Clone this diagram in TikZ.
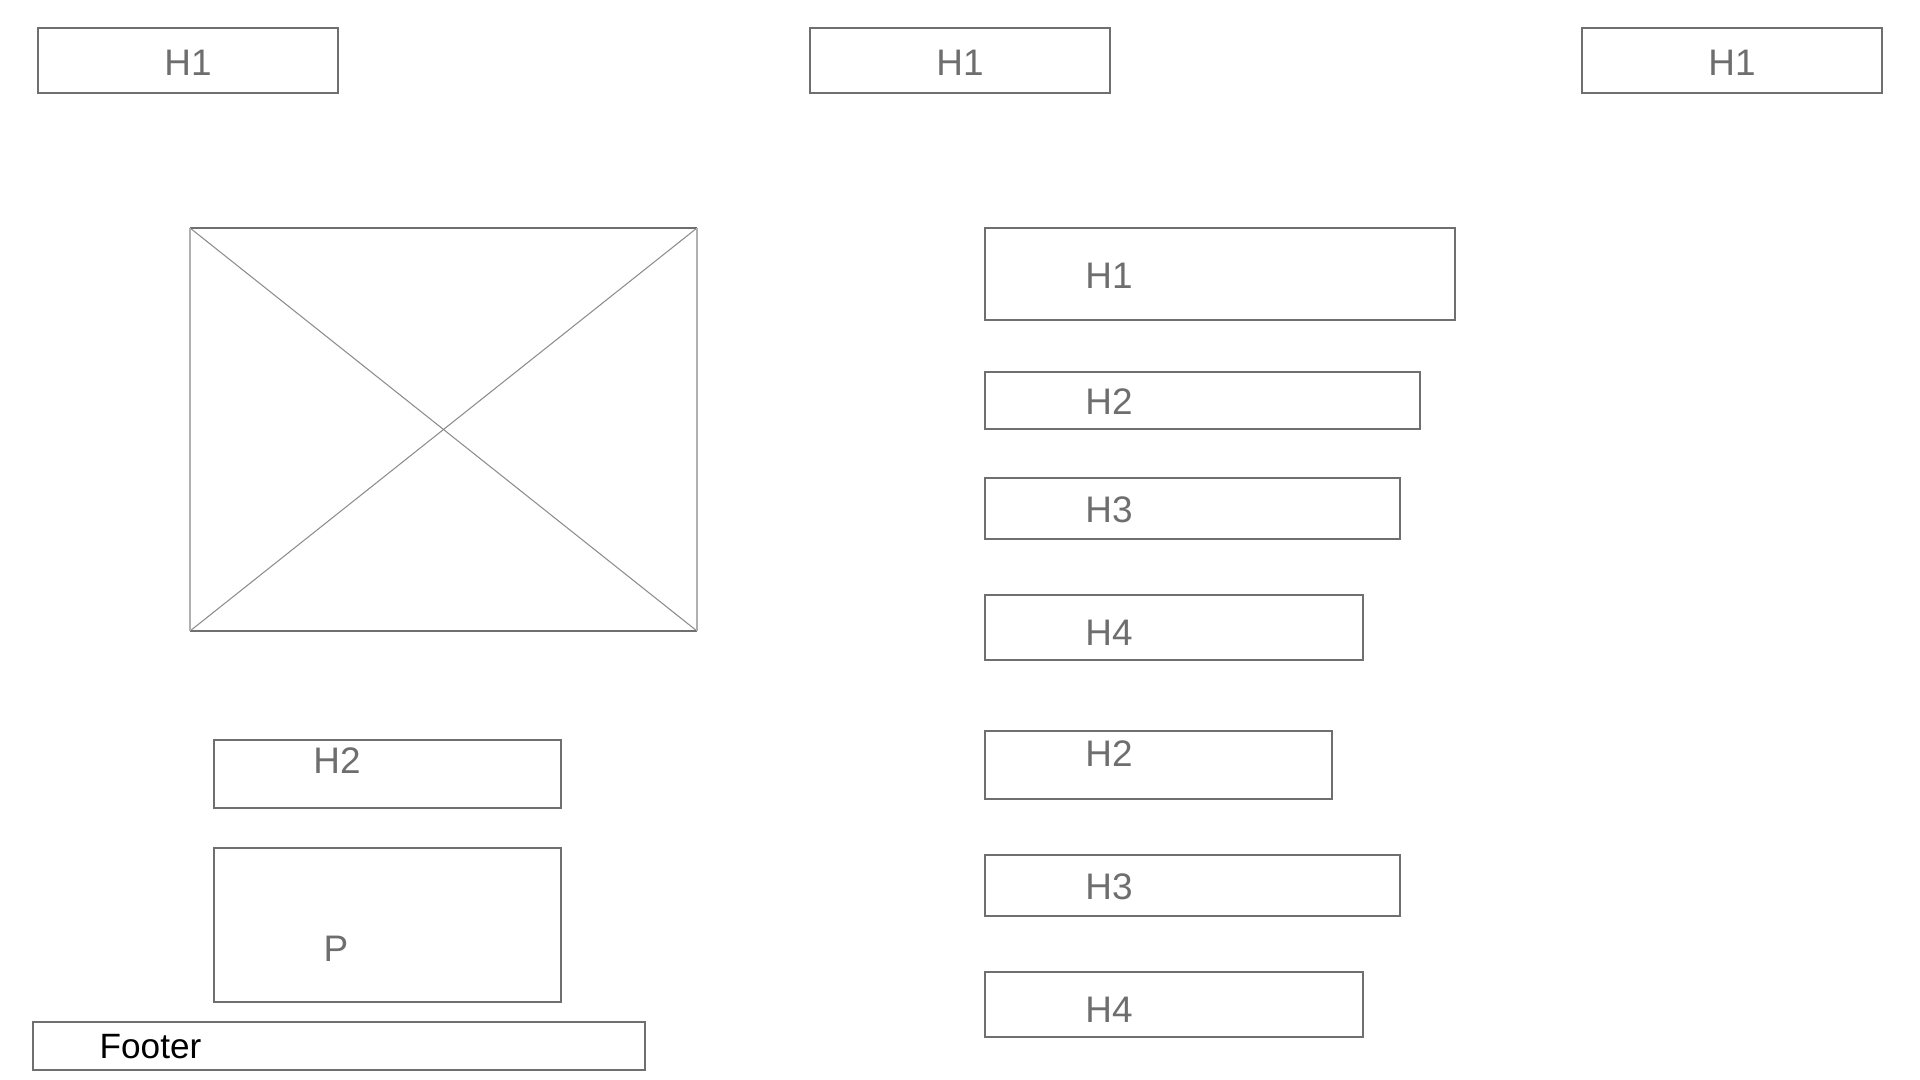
\documentclass[tikz,border=0pt]{standalone}
\usepackage{fontspec}
\setmainfont{Liberation Sans}
\definecolor{wireline}{HTML}{6F6F6F}
\definecolor{wiretext}{HTML}{6E6E6E}
\definecolor{wirecross}{HTML}{8C8C8C}
\definecolor{wireside}{HTML}{B0B0B0}

\begin{document}
\begin{tikzpicture}[x = 0.01cm, y = -0.01cm,
    wire/.style = {draw = wireline, line width = 0.45pt},
    label/.style = {text = wiretext, anchor = base, inner sep = 0pt, font = \fontsize{10.5}{12}\selectfont}]%
  \useasboundingbox (0, 0) rectangle (1920, 1080);

  % header row
  \draw[wire] (38, 28) rectangle (338, 93);
  \draw[wire] (810, 28) rectangle (1110, 93);
  \draw[wire] (1582, 28) rectangle (1882, 93);
  \node[label] (headleft) at (188, 76) {H1};
  \node[label] (headmid) at (960, 76) {H1};
  \node[label] (headright) at (1732, 76) {H1};

  % image placeholder
  \draw[wirecross, line width = 0.3pt] (190, 228) -- (697, 631);
  \draw[wirecross, line width = 0.3pt] (190, 631) -- (697, 228);
  \draw[wireline, line width = 0.45pt] (190, 228) -- (697, 228);
  \draw[wireline, line width = 0.45pt] (190, 631) -- (697, 631);
  \draw[wireside, line width = 0.6pt] (190, 228) -- (190, 631);
  \draw[wireside, line width = 0.6pt] (697, 228) -- (697, 631);

  % left column
  \draw[wire] (214, 740) rectangle (561, 808);
  \node[label] (subleft) at (337, 774) {H2};
  \draw[wire] (214, 848) rectangle (561, 1002);
  \node[label] (para) at (336, 962) {P};
  \draw[wire] (33, 1022) rectangle (645, 1070);
  \node[label, text = black, anchor = base west, font = \fontsize{10}{12}\selectfont] (footer) at (99, 1059) {Footer};

  % right column
  \draw[wire] (985, 228) rectangle (1455, 320);
  \node[label] (title) at (1109, 289) {H1};
  \draw[wire] (985, 372) rectangle (1420, 429);
  \node[label] (subone) at (1109, 415) {H2};
  \draw[wire] (985, 478) rectangle (1400, 539);
  \node[label] (minorone) at (1109, 523) {H3};
  \draw[wire] (985, 595) rectangle (1363, 660);
  \node[label] (smallone) at (1109, 646) {H4};

  \draw[wire] (985, 731) rectangle (1332, 799);
  \node[label] (subtwo) at (1109, 767) {H2};
  \draw[wire] (985, 855) rectangle (1400, 916);
  \node[label] (minortwo) at (1109, 900) {H3};
  \draw[wire] (985, 972) rectangle (1363, 1037);
  \node[label] (smalltwo) at (1109, 1023) {H4};
\end{tikzpicture}
\end{document}
